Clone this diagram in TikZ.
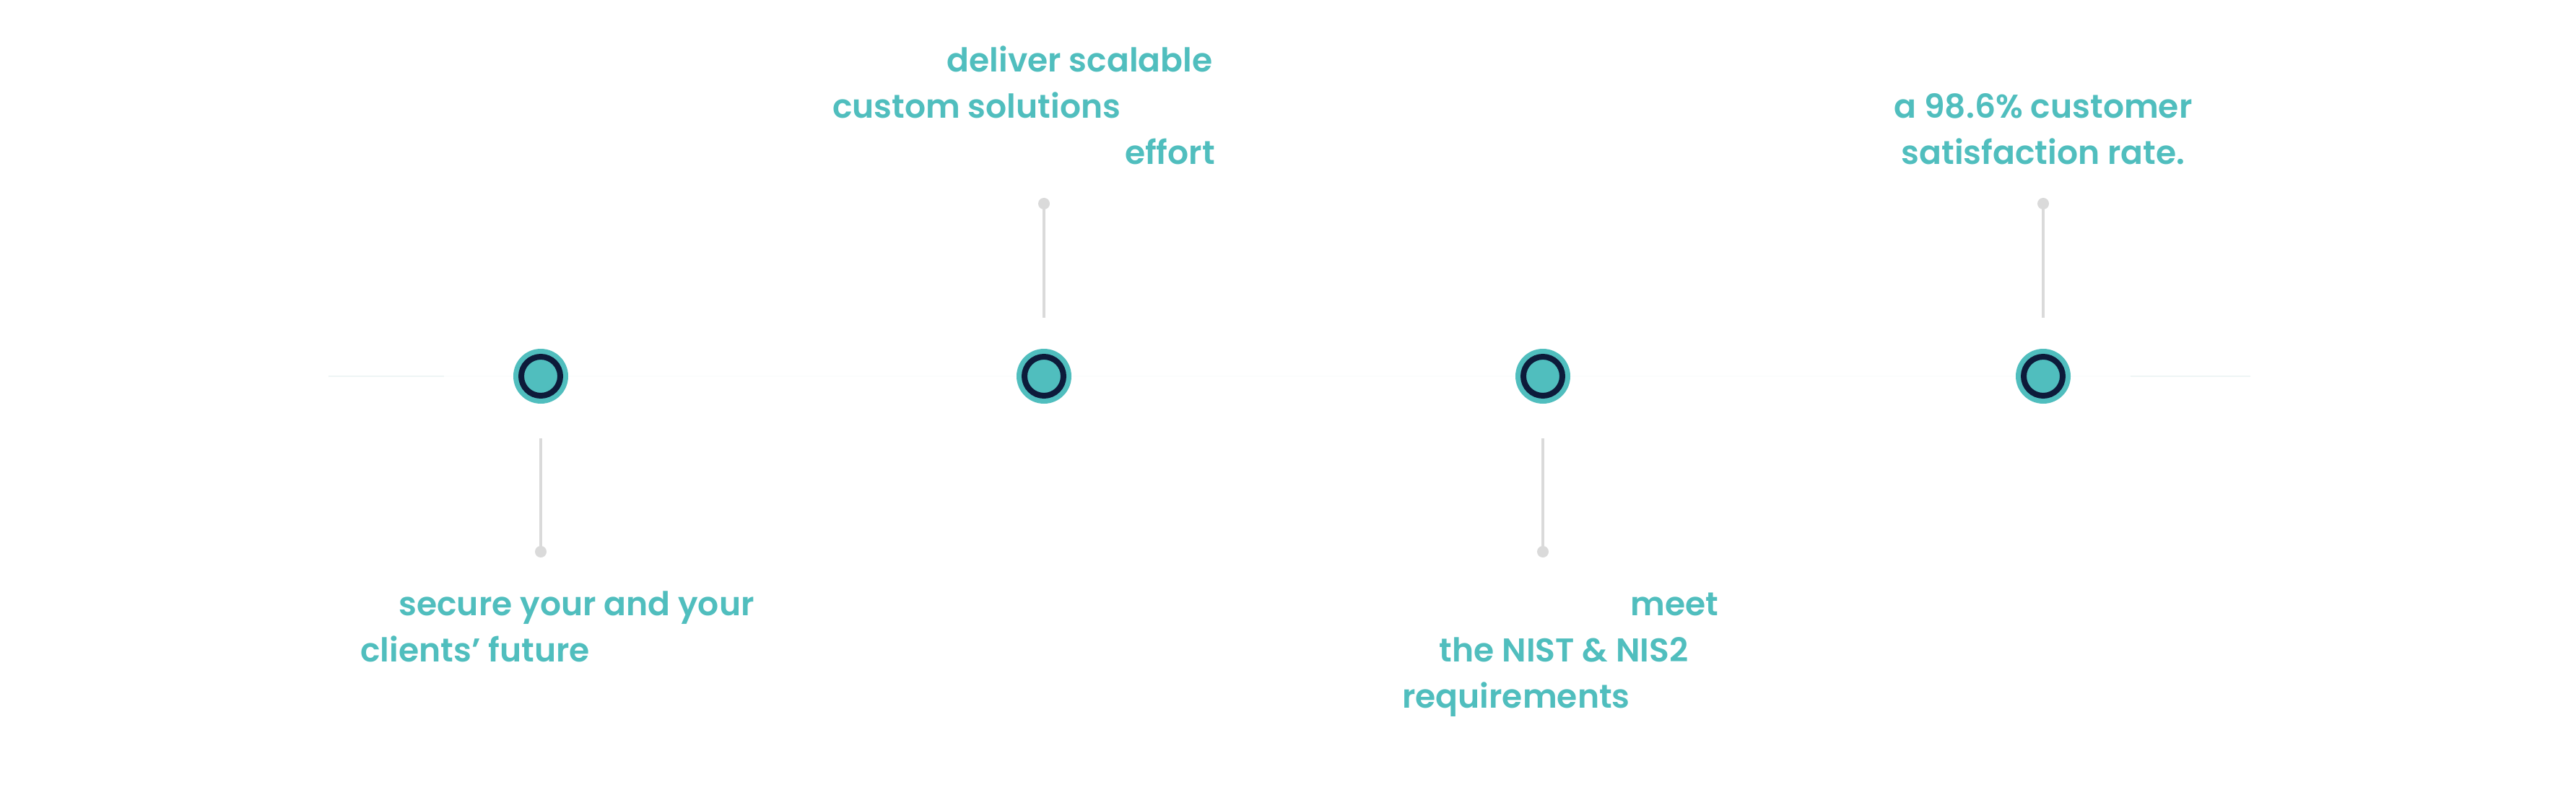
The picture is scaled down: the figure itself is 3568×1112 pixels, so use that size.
\documentclass[tikz,border=0pt]{standalone}
\usepackage{fontspec}
\setmainfont{Poppins SemiBold}
\definecolor{tealc}{HTML}{50BEBE}
\definecolor{navyc}{HTML}{0D1B3A}
\definecolor{greyc}{HTML}{DADADA}
\definecolor{faintc}{HTML}{FBFDFD}
\definecolor{faintd}{HTML}{EEF5F5}
\newcommand{\tl}[1]{\textcolor{tealc}{#1}}
\tikzset{
  txt/.style={anchor=base, inner sep=0pt, text=white, font=\fontsize{11.4}{16}\selectfont},
  dotmark/.style={circle, fill=greyc, inner sep=0pt, minimum size=4pt},
  stem/.style={greyc, line width=0.8pt},
  outerc/.style={circle, fill=tealc, inner sep=0pt, minimum size=19pt},
  ringc/.style={circle, draw=navyc, fill=tealc, line width=2pt, inner sep=0pt, minimum size=13.5pt},
}
\begin{document}
\begin{tikzpicture}[x=0.25pt,y=-0.25pt]
\useasboundingbox[fill=white] (0,0) rectangle (3568,1112);
% horizontal faint line
\coordinate (hl) at (455,521);
\coordinate (hr) at (3117,521);
\coordinate (hlm) at (615,521);
\coordinate (hrm) at (2951,521);
\draw[faintc, line width=0.5pt] (hl) -- (hr);
\draw[faintd, line width=0.5pt] (hl) -- (hlm);
\draw[faintd, line width=0.5pt] (hrm) -- (hr);
% circles
\foreach \i/\x in {1/749,2/1446,3/2137,4/2830}{
  \node[outerc] (c\i) at (\x,521) {};
  \node[ringc] at (c\i) {};
}
% dots and stems
\node[dotmark] (d1) at (749,764) {};
\node[dotmark] (d2) at (1446,282) {};
\node[dotmark] (d3) at (2137,764) {};
\node[dotmark] (d4) at (2830,282) {};
\draw[stem, shorten >=20.25pt] (d2.center) -- (c2.center);
\draw[stem, shorten >=20.25pt] (d4.center) -- (c4.center);
\draw[stem, shorten >=21.5pt] (d1.center) -- (c1.center);
\draw[stem, shorten >=21.5pt] (d3.center) -- (c3.center);
% block 1
\node[txt] (t1a) at (749,852) {You \tl{secure your and your}};
\node[txt] (t1b) at (749,916) {\tl{clients’ future} with an};
\node[txt] (t1c) at (749,980) {AI-driven cyber};
\node[txt] (t1d) at (749,1044) {resilience platform.};
% block 2
\node[txt] (t2a) at (1446,100) {You \tl{deliver scalable}};
\node[txt] (t2b) at (1446,164) {\tl{custom solutions} without};
\node[txt] (t2c) at (1446,228) {any additional \tl{effort}};
% block 3
\node[txt] (t3a) at (2137,852) {You effortlessly \tl{meet}};
\node[txt] (t3b) at (2166,916) {\tl{the NIST \& NIS2}};
\node[txt] (t3c) at (2137,980) {\tl{requirements} for};
\node[txt] (t3d) at (2137,1044) {cybersecurity training.};
% block 4
\node[txt] (t4a) at (2830,100) {You are guaranteed};
\node[txt] (t4b) at (2830,164) {\tl{a 98.6\% customer}};
\node[txt] (t4c) at (2830,228) {\tl{satisfaction rate.}};
\end{tikzpicture}
\end{document}
